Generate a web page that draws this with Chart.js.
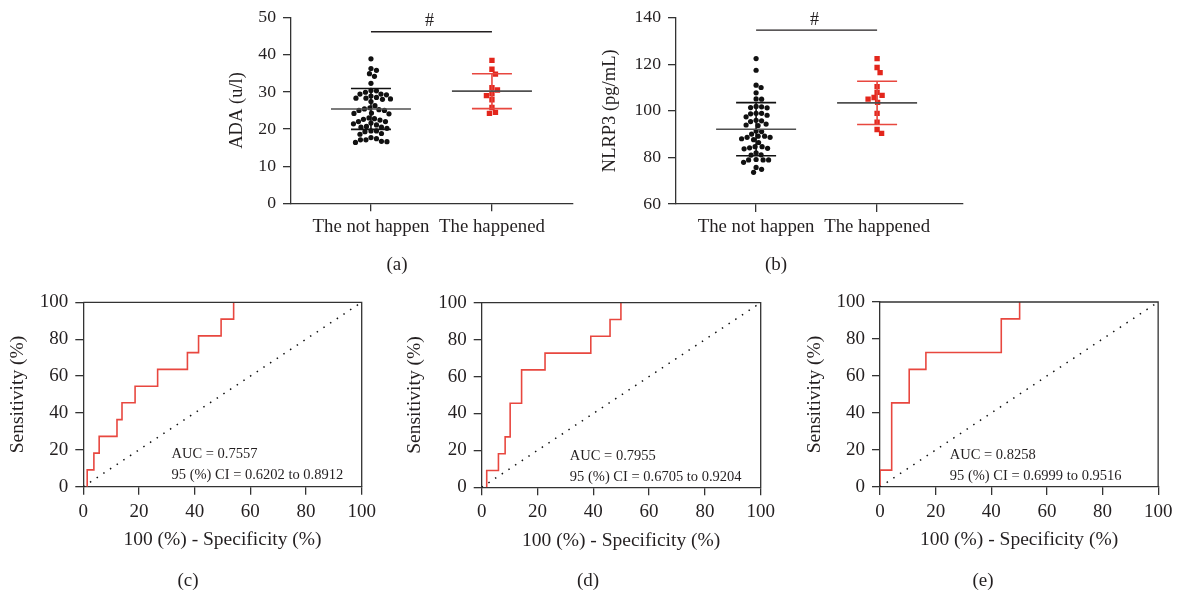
<!DOCTYPE html>
<html lang="en">
<head>
<meta charset="UTF-8">
<script src="https://cdn.jsdelivr.net/npm/chart.js"></script>
<title>ADA / NLRP3 and ROC curves</title>
<style>
  body { margin: 0; width: 1178px; height: 595px; background: #fff; position: relative; overflow: hidden;
         font-family: "Liberation Serif", serif; color: #231f20; }
  canvas { position: absolute; }
  .tag { position: absolute; font-size: 19px; transform: translate(-50%, -50%); white-space: nowrap; }
</style>
</head>
<body>
<canvas id="chartA" width="390" height="260" style="left:200px;top:0"></canvas>
<canvas id="chartB" width="390" height="260" style="left:590px;top:0"></canvas>
<canvas id="chartC" width="395" height="290" style="left:0;top:280px"></canvas>
<canvas id="chartD" width="390" height="290" style="left:400px;top:280px"></canvas>
<canvas id="chartE" width="388" height="290" style="left:790px;top:280px"></canvas>

<div class="tag" style="left:397px;top:264px">(a)</div>
<div class="tag" style="left:776px;top:264px">(b)</div>
<div class="tag" style="left:188px;top:580px">(c)</div>
<div class="tag" style="left:588px;top:580px">(d)</div>
<div class="tag" style="left:983px;top:580px">(e)</div>

<script>
// ---- data ----
const groups = ['The not happen', 'The happened'];

const adaNotHappen = [38.9, 36.3, 35.8, 34.9, 34.2, 32.3, 30.3, 29.9, 30.4, 29.2, 29.4, 28.3, 27.4, 28.3,
  28.1, 28.5, 28.9, 29.4, 28.0, 26.3, 25.7, 25.0, 25.4, 25.2, 25.0, 24.3, 24.2, 24.1, 22.8, 23.0, 22.6,
  22.4, 22.0, 22.0, 21.4, 20.7, 20.5, 21.6, 20.5, 21.1, 20.2, 19.5, 19.5, 18.8, 19.3, 18.6, 17.7, 17.4,
  17.1, 17.1, 16.7, 16.6, 16.4];
const adaHappened = [38.5, 36.1, 34.8, 31.1, 30.5, 29.5, 29.0, 27.9, 25.8, 24.5, 24.2];
const adaMean = [25.4, 30.2];
const adaSd = [5.5, 4.7];

const nlrp3NotHappen = [122.4, 117.4, 111.0, 110.0, 107.7, 105.1, 105.0, 101.3, 101.9, 101.7, 101.4,
  98.9, 97.4, 98.1, 98.7, 98.9, 95.4, 95.9, 93.9, 94.3, 95.7, 93.7, 91.1, 90.0, 91.3, 88.6, 87.6, 89.1,
  89.1, 88.0, 88.6, 86.4, 84.6, 84.1, 83.7, 84.6, 83.9, 81.1, 81.0, 82.0, 78.9, 77.9, 78.9, 79.1, 78.9,
  75.7, 74.9, 73.6];
const nlrp3Happened = [122.4, 118.6, 116.4, 110.4, 107.9, 106.6, 105.7, 105.0, 103.6, 98.9, 95.1, 92.0, 90.3];
const nlrp3Mean = [92.1, 103.4];
const nlrp3Sd = [11.4, 9.3];

// ROC curves: 100% - specificity vs sensitivity (step vertices)
const rocCSpec = [1.4, 1.4, 3.8, 5.7, 12.1, 13.9, 18.6, 26.7, 37.4, 41.4, 49.5, 54.0];
const rocCSens = [0, 9.1, 18.2, 27.3, 36.4, 45.5, 54.5, 63.6, 72.7, 81.8, 90.9, 100];
const rocDSpec = [1.8, 1.8, 6.0, 8.4, 10.2, 14.3, 22.7, 39.1, 46.0, 49.9];
const rocDSens = [0, 9.1, 18.2, 27.3, 45.5, 63.6, 72.7, 81.8, 90.9, 100];
const rocESpec = [0, 0, 4.2, 10.5, 16.5, 43.6, 50.2];
const rocESens = [0, 9.1, 45.5, 63.6, 72.7, 90.9, 100];
const diagX = [0, 100];
const diagY = [0, 100];

const aucValues = ['0.7557', '0.7955', '0.8258'];
const ciLow = ['0.6202', '0.6705', '0.6999'];
const ciHigh = ['0.8912', '0.9204', '0.9516'];
const rocTicks = [0, 20, 40, 60, 80, 100];

// ---- styling ----
const INK = '#231f20';
const AXIS = '#333333';
const RED = '#e3261c';
const RED_LINE = '#e8473f';
Chart.defaults.font.family = "'Liberation Serif', serif";
Chart.defaults.color = INK;
Chart.defaults.animation = false;

const toPts = (xs, ys) => xs.map((x, i) => ({ x: x, y: ys[i] }));

// mean line + SD bars
const meanSdPlugin = {
  id: 'meanSd',
  afterDatasetsDraw(chart, args, o) {
    if (!o.means) return;
    const { ctx, scales: { x, y } } = chart;
    ctx.save();
    ctx.lineWidth = 1.6;
    o.means.forEach((m, i) => {
      const cx = x.getPixelForValue(i + 1);
      const top = y.getPixelForValue(m + o.sds[i]);
      const bot = y.getPixelForValue(m - o.sds[i]);
      const my = y.getPixelForValue(m);
      ctx.strokeStyle = o.barColors[i];
      ctx.beginPath();
      ctx.moveTo(cx, top); ctx.lineTo(cx, bot);
      ctx.moveTo(cx - 20, top); ctx.lineTo(cx + 20, top);
      ctx.moveTo(cx - 20, bot); ctx.lineTo(cx + 20, bot);
      ctx.stroke();
      ctx.strokeStyle = '#505050';
      ctx.beginPath();
      ctx.moveTo(cx - 40, my); ctx.lineTo(cx + 40, my);
      ctx.stroke();
    });
    ctx.restore();
  }
};

// significance bracket
const sigPlugin = {
  id: 'sig',
  afterDraw(chart, args, o) {
    if (o.level === undefined) return;
    const { ctx, scales: { x, y } } = chart;
    const x1 = x.getPixelForValue(1), x2 = x.getPixelForValue(2), py = y.getPixelForValue(o.level);
    ctx.save();
    ctx.strokeStyle = INK;
    ctx.lineWidth = 1.3;
    ctx.beginPath(); ctx.moveTo(x1, py); ctx.lineTo(x2, py); ctx.stroke();
    ctx.fillStyle = INK;
    ctx.font = "18px 'Liberation Serif', serif";
    ctx.textAlign = 'center';
    ctx.textBaseline = 'middle';
    ctx.fillText(o.text, (x1 + x2) / 2 - 2, py - 10);
    ctx.restore();
  }
};

// box frame + AUC text for ROC panels
const rocPlugin = {
  id: 'roc',
  afterDraw(chart, args, o) {
    if (!o.lines) return;
    const { ctx, chartArea: a, scales: { x, y } } = chart;
    ctx.save();
    ctx.strokeStyle = AXIS;
    ctx.lineWidth = 1.3;
    ctx.beginPath();
    ctx.moveTo(a.left, a.top); ctx.lineTo(a.right, a.top); ctx.lineTo(a.right, a.bottom);
    ctx.stroke();
    ctx.fillStyle = INK;
    ctx.font = "14.5px 'Liberation Serif', serif";
    ctx.textAlign = 'left';
    ctx.textBaseline = 'middle';
    o.lines.forEach((t, i) => ctx.fillText(t, x.getPixelForValue(o.at[0]), y.getPixelForValue(o.at[1][i])));
    ctx.restore();
  }
};

Chart.register(meanSdPlugin, sigPlugin, rocPlugin);

// beeswarm-style horizontal spreading, like a scatter dot plot
function swarm(chart, values, center, minDist) {
  const xs = chart.scales.x, ys = chart.scales.y;
  const cx = xs.getPixelForValue(center);
  const placed = [];
  const out = new Array(values.length);
  const order = values.map((v, i) => i).sort((a, b) => values[b] - values[a]);
  for (const i of order) {
    const py = ys.getPixelForValue(values[i]);
    let dx = 0;
    for (let k = 0; k < 400; k++) {
      const cand = (k % 2 ? 1 : -1) * Math.ceil(k / 2) * 0.5;
      if (placed.every(p => Math.hypot(p[0] - cand, p[1] - py) >= minDist)) { dx = cand; break; }
    }
    placed.push([dx, py]);
    out[i] = { x: xs.getValueForPixel(cx + dx), y: values[i] };
  }
  return out;
}

function dotPlot(id, cfg) {
  const chart = new Chart(document.getElementById(id), {
    type: 'scatter',
    data: {
      datasets: [
        { data: cfg.a.map(v => ({ x: 1, y: v })), pointStyle: 'circle', pointRadius: 2.6,
          backgroundColor: '#111', borderWidth: 0 },
        { data: cfg.b.map(v => ({ x: 2, y: v })), pointStyle: 'rect', pointRadius: 3.8,
          backgroundColor: RED, borderWidth: 0 }
      ]
    },
    options: {
      responsive: false,
      layout: { padding: cfg.padding },
      plugins: {
        legend: { display: false }, tooltip: { enabled: false },
        meanSd: { means: cfg.means, sds: cfg.sds, barColors: ['#111', RED_LINE] },
        sig: { level: cfg.sig, text: '#' }
      },
      scales: {
        x: {
          type: 'linear', min: cfg.xMin, max: cfg.xMax,
          afterBuildTicks: s => { s.ticks = [{ value: 1 }, { value: 2 }]; },
          afterFit: s => { s.height = 40; },
          ticks: { callback: v => groups[Math.round(v) - 1], autoSkip: false, maxRotation: 0,
                   padding: 4, font: { size: 18.8 }, color: INK },
          grid: { drawOnChartArea: false, tickLength: 8, color: AXIS, lineWidth: 1.3 },
          border: { color: AXIS, width: 1.3 }
        },
        y: {
          min: cfg.yMin, max: cfg.yMax,
          afterFit: s => { s.width = cfg.yWidth; },
          ticks: { stepSize: cfg.step, padding: 7, font: { size: 17.7 }, color: INK },
          grid: { drawOnChartArea: false, tickLength: 8, color: AXIS, lineWidth: 1.3 },
          border: { color: AXIS, width: 1.3 },
          title: { display: true, text: cfg.title, font: { size: 18.5 }, color: INK,
                   padding: { top: cfg.titlePad, bottom: 0 } }
        }
      }
    }
  });
  chart.data.datasets[0].data = swarm(chart, cfg.a, 1, 5.4);
  chart.data.datasets[1].data = swarm(chart, cfg.b, 2, 5.8);
  chart.update('none');
}

dotPlot('chartA', {
  a: adaNotHappen, b: adaHappened, means: adaMean, sds: adaSd, sig: 46.2,
  yMin: 0, yMax: 50, step: 10, title: 'ADA (u/l)', titlePad: 25.6,
  xMin: 0.339, xMax: 2.67, yWidth: 91, padding: { top: 15, right: 17, bottom: 16.7, left: 0 }
});
dotPlot('chartB', {
  a: nlrp3NotHappen, b: nlrp3Happened, means: nlrp3Mean, sds: nlrp3Sd, sig: 134.6,
  yMin: 60, yMax: 140, step: 20, title: 'NLRP3 (pg/mL)', titlePad: 8.9,
  xMin: 0.338, xMax: 2.71, yWidth: 86, padding: { top: 17.3, right: 17, bottom: 16, left: 0 }
});

function rocPlot(id, cfg) {
  const axis = (title, extra) => Object.assign({
    type: 'linear', min: 0, max: 100,
    afterBuildTicks: s => { s.ticks = rocTicks.map(v => ({ value: v })); },
    ticks: { font: { size: 19 }, color: INK, autoSkip: false, maxRotation: 0 },
    grid: { drawOnChartArea: false, tickLength: 8, color: AXIS, lineWidth: 1.3 },
    border: { color: AXIS, width: 1.3 },
    title: { display: true, text: title, font: { size: 19.5 }, color: INK }
  }, extra);
  const xAx = axis('100 (%) - Specificity (%)', { afterFit: s => { s.height = 70; } });
  xAx.ticks.padding = 5.6;
  xAx.title.padding = { top: 0, bottom: 5 };
  const yAx = axis('Sensitivity (%)', { afterFit: s => { s.width = cfg.yWidth; } });
  yAx.ticks.padding = 7;
  yAx.title.padding = { top: cfg.titlePad, bottom: 0 };

  new Chart(document.getElementById(id), {
    type: 'scatter',
    data: {
      datasets: [
        { data: toPts(diagX, diagY), showLine: true, borderColor: '#111', borderWidth: 1.5,
          borderDash: [1.5, 6.5], pointRadius: 0 },
        { data: toPts(cfg.spec, cfg.sens), showLine: true, stepped: true, borderColor: RED_LINE,
          borderWidth: 1.6, pointRadius: 0 }
      ]
    },
    options: {
      responsive: false,
      layout: { padding: cfg.padding },
      plugins: {
        legend: { display: false }, tooltip: { enabled: false },
        roc: {
          lines: ['AUC = ' + aucValues[cfg.i], '95 (%) CI = ' + ciLow[cfg.i] + ' to ' + ciHigh[cfg.i]],
          at: cfg.textAt
        }
      },
      scales: { x: xAx, y: yAx }
    }
  });
}

rocPlot('chartC', { i: 0, spec: rocCSpec, sens: rocCSens, yWidth: 83.3, titlePad: 6.3,
  padding: { top: 22.3, right: 33.3, bottom: 13.3, left: 0 }, textAt: [31.7, [17.7, 6.0]] });
rocPlot('chartD', { i: 1, spec: rocDSpec, sens: rocDSens, yWidth: 81.7, titlePad: 3,
  padding: { top: 22.7, right: 29.3, bottom: 12.7, left: 0 }, textAt: [31.6, [17.1, 5.3]] });
rocPlot('chartE', { i: 2, spec: rocESpec, sens: rocESens, yWidth: 90, titlePad: 13,
  padding: { top: 22, right: 19, bottom: 13, left: 0 }, textAt: [25.1, [17.3, 6.1]] });
</script>
</body>
</html>
